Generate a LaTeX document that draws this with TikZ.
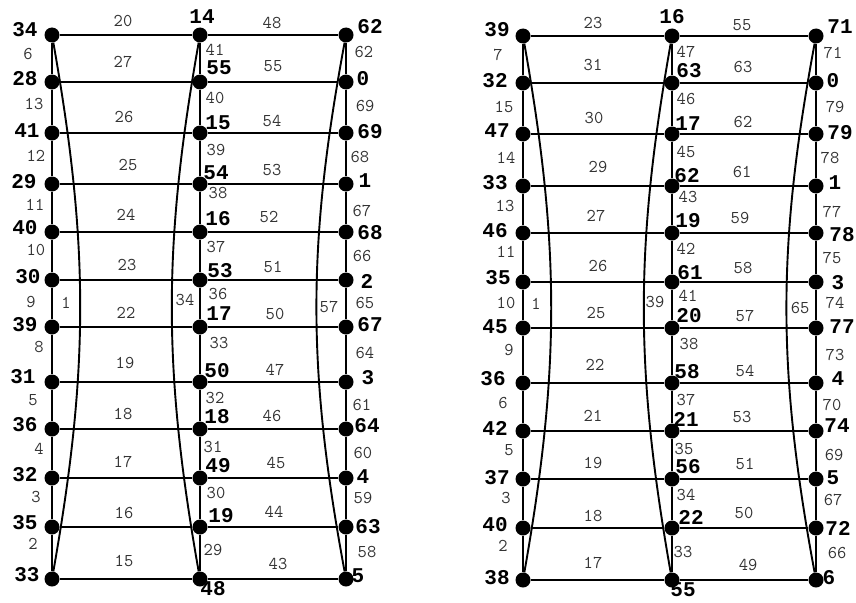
\documentclass[tikz,border=0pt]{standalone}
\usepackage{fontspec}
\newfontfamily\nodelabfont{Liberation Mono}
\begin{document}
\tikzset{
  dot/.style={circle, fill=black, inner sep=0pt, minimum size=15pt},
  edge/.style={line width=1.9pt, black},
  nl/.style={font=\nodelabfont\bfseries\fontsize{21}{21}\selectfont, inner sep=0pt},
  el/.style={font=\ttfamily\fontsize{18}{18}\selectfont, text=black!80, inner sep=0pt},
}
\begin{tikzpicture}[x=1pt,y=-1pt]
\useasboundingbox (0,0) rectangle (856,602);
% ---------------- graph 1 ----------------
\foreach \yy [count=\i] in {35,82,133,184,232,280,327,382,429,478,527,579} {
  \node[dot] (a\i) at (52,\yy) {};
  \node[dot] (b\i) at (200,\yy) {};
  \node[dot] (c\i) at (346,\yy) {};
}
\foreach \i in {1,...,12} \draw[edge] (a\i) -- (b\i) -- (c\i);
\foreach \i [evaluate=\i as \j using {int(\i+1)}] in {1,...,11} {
  \draw[edge] (a\i) -- (a\j);
  \draw[edge] (b\i) -- (b\j);
  \draw[edge] (c\i) -- (c\j);
}
\draw[edge] (a1) to[bend left=10] (a12);
\draw[edge] (b1) to[bend right=10] (b12);
\draw[edge] (c1) to[bend right=10.5] (c12);
% node labels
\foreach \t/\xx/\yy [count=\i] in {34/25/30,28/25/79,41/27/131,29/24/182,40/25/228,30/28/277,39/25/325,31/23/377,36/25/425,32/25/475,35/25/523,33/27/575}
  \node[nl] (pla\i) at (\xx,\yy) {\t};
\foreach \t/\xx/\yy [count=\i] in {14/202/17,55/219/68,15/218/123,54/216/173,16/218/219,53/220/271,17/219/314,50/217/371,18/217/417,49/218/466,19/221/516,48/213/589}
  \node[nl] (plb\i) at (\xx,\yy) {\t};
\foreach \t/\xx/\yy [count=\i] in {62/370/27,0/363/79,69/370/132,1/365/181,68/370/233,2/367/281,67/370/325,3/368/378,64/367/426,4/363/477,63/368/527,5/358/576}
  \node[nl] (plc\i) at (\xx,\yy) {\t};
% edge labels
\foreach \t/\xx/\yy [count=\i] in {6/28/54,13/34/104,12/36/156,11/35/205,10/36/250,9/31/302,8/39/347,5/33/400,4/39/449,3/36/497,2/33/544}
  \node[el] (pea\i) at (\xx,\yy) {\t};
\foreach \t/\xx/\yy [count=\i] in {41/215/50,40/215/98,39/216/150,38/218/193,37/216/247,36/218/294,33/219/343,32/215/398,31/213/447,30/216/493,29/213/550}
  \node[el] (peb\i) at (\xx,\yy) {\t};
\foreach \t/\xx/\yy [count=\i] in {62/364/52,69/365/106,68/360/157,67/362/211,66/362/256,65/365/303,64/365/353,61/362/405,60/363/453,59/363/498,58/367/552}
  \node[el] (pec\i) at (\xx,\yy) {\t};
\foreach \t/\xx/\yy [count=\i] in {20/123/21,27/123/62,26/124/117,25/128/165,24/126/215,23/127/265,22/126/313,19/125/363,18/123/414,17/123/462,16/124/513,15/124/561}
  \node[el] (peab\i) at (\xx,\yy) {\t};
\foreach \t/\xx/\yy [count=\i] in {48/272/23,55/273/66,54/272/121,53/272/170,52/269/217,51/273/267,50/275/314,47/275/370,46/272/416,45/276/463,44/274/512,43/278/564}
  \node[el] (pebc\i) at (\xx,\yy) {\t};
\node[el] (pcura) at (66,303) {1};
\node[el] (pcurb) at (185,300) {34};
\node[el] (pcurc) at (329,307) {57};
% ---------------- graph 2 ----------------
\foreach \yy [count=\i] in {36,83,134,186,233,282,328,383,431,479,528,580} {
  \node[dot] (d\i) at (523,\yy) {};
  \node[dot] (e\i) at (672,\yy) {};
  \node[dot] (f\i) at (816,\yy) {};
}
\foreach \i in {1,...,12} \draw[edge] (d\i) -- (e\i) -- (f\i);
\foreach \i [evaluate=\i as \j using {int(\i+1)}] in {1,...,11} {
  \draw[edge] (d\i) -- (d\j);
  \draw[edge] (e\i) -- (e\j);
  \draw[edge] (f\i) -- (f\j);
}
\draw[edge] (d1) to[bend left=10] (d12);
\draw[edge] (e1) to[bend right=10] (e12);
\draw[edge] (f1) to[bend right=10.5] (f12);
% node labels
\foreach \t/\xx/\yy [count=\i] in {39/497/30,32/495/81,47/497/131,33/495/183,46/495/231,35/498/278,45/495/327,36/493/379,42/495/428,37/497/478,40/495/525,38/497/578}
  \node[nl] (qld\i) at (\xx,\yy) {\t};
\foreach \t/\xx/\yy [count=\i] in {16/672/17,63/689/71,17/688/124,62/687/176,19/688/221,61/690/273,20/689/316,58/687/372,21/686/419,56/688/467,22/691/517,55/683/590}
  \node[nl] (qle\i) at (\xx,\yy) {\t};
\foreach \t/\xx/\yy [count=\i] in {71/840/27,0/833/81,79/840/133,1/835/183,78/842/235,3/838/283,77/842/327,4/838/379,74/837/426,5/833/478,72/838/528,6/829/578}
  \node[nl] (qlf\i) at (\xx,\yy) {\t};
% edge labels
\foreach \t/\xx/\yy [count=\i] in {7/498/55,15/504/107,14/506/158,13/505/206,11/506/252,10/506/303,9/509/350,6/503/403,5/509/450,3/506/498,2/503/546}
  \node[el] (qed\i) at (\xx,\yy) {\t};
\foreach \t/\xx/\yy [count=\i] in {47/686/52,46/686/99,45/686/152,43/688/197,42/686/249,41/688/296,38/689/344,37/686/400,35/684/449,34/686/495,33/683/552}
  \node[el] (qee\i) at (\xx,\yy) {\t};
\foreach \t/\xx/\yy [count=\i] in {71/833/53,79/835/107,78/830/158,77/832/212,75/832/258,74/835/303,73/835/355,70/832/405,69/834/455,67/833/500,66/837/553}
  \node[el] (qef\i) at (\xx,\yy) {\t};
\foreach \t/\xx/\yy [count=\i] in {23/593/23,31/593/65,30/594/118,29/598/167,27/596/216,26/598/266,25/596/313,22/595/365,21/593/416,19/593/463,18/593/516,17/593/563}
  \node[el] (qede\i) at (\xx,\yy) {\t};
\foreach \t/\xx/\yy [count=\i] in {55/742/25,63/743/67,62/743/122,61/742/172,59/740/218,58/743/268,57/745/316,54/745/371,53/742/417,51/745/464,50/744/513,49/748/565}
  \node[el] (qeef\i) at (\xx,\yy) {\t};
\node[el] (qcurd) at (536,304) {1};
\node[el] (qcure) at (655,302) {39};
\node[el] (qcurf) at (800,308) {65};
\end{tikzpicture}
\end{document}
